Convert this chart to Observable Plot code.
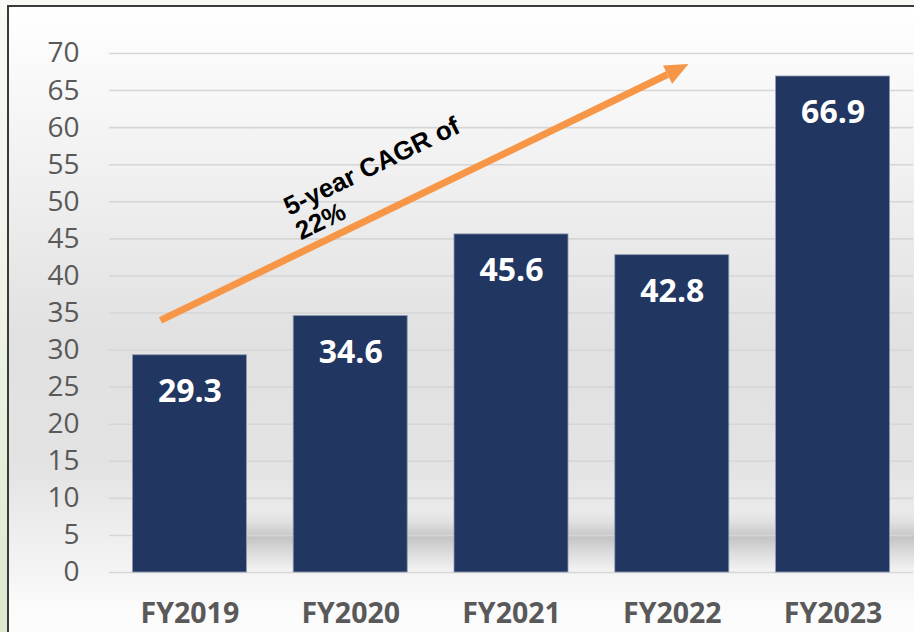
<!DOCTYPE html>
<html>
<head>
<meta charset="utf-8">
<script src="https://cdn.jsdelivr.net/npm/d3@7"></script>
<script src="https://cdn.jsdelivr.net/npm/@observablehq/plot@0.6"></script>
<style>
  html, body { margin: 0; padding: 0; overflow: hidden; background: #f8f9f3; }
  #wrap { position: relative; width: 914px; height: 632px; overflow: hidden; background: #f8f9f3; }
  #strip { position: absolute; left: 0; top: 0; width: 7px; height: 632px;
    background: linear-gradient(to bottom, #f9faf5 0%, #eef3e6 50%, #dde8cc 100%); }
  #frame { position: absolute; left: 7px; top: 5px; width: 930px; height: 650px;
    border-left: 2px solid #3a3a3a; border-top: 2px solid #3a3a3a;
    background: linear-gradient(to bottom, #ffffff 0px, #f0f0f0 170px, #e1e1e1 330px, #e3e3e3 460px, #ededed 520px, #f4f4f4 565px, #fbfbfb 600px, #fdfdfd 640px); }
  #shadow { position: absolute; left: 246px; top: 510px; width: 680px; height: 62px;
    background: linear-gradient(to bottom, rgba(0,0,0,0) 0px, rgba(0,0,0,0.05) 12px, rgba(0,0,0,0.15) 24px, rgba(0,0,0,0.18) 27px, rgba(0,0,0,0.1) 40px, rgba(0,0,0,0.03) 55px, rgba(0,0,0,0) 62px); }
  #chart { position: absolute; left: 0; top: 0; }
</style>
</head>
<body>
<div id="wrap">
  <div id="strip"></div>
  <div id="frame"></div>
  <div id="shadow"></div>
  <div id="chart"></div>
</div>
<script>
// ---- data ----
const categories = ["FY2019", "FY2020", "FY2021", "FY2022", "FY2023"];
const revenue = [29.3, 34.6, 45.6, 42.8, 66.9];
const yTicks = [0, 5, 10, 15, 20, 25, 30, 35, 40, 45, 50, 55, 60, 65, 70];
// annotation (in data units: x = category index, y = value)
const arrowLine = [{x1: -0.183, y1: 34.0, x2: 2.97, y2: 67.17}];
const arrowHead = [{x: 3.014, y: 67.63}];
const cagrLines = ["5-year CAGR of", "22%"];
const cagrAnchor = [{x: 0.565, y: 50.4}];

// ---- derived table ----
const bars = categories.map((c, i) => ({i, cat: c, value: revenue[i]}));
const barHalf = 0.3545;

// filled isosceles arrowhead symbol, pointing along the arrow
const headLen = 23.4, headBase = 20.4, headAngle = -26.5; // degrees on screen
const headArea = 0.5 * headLen * headBase;
const arrowSymbol = {
  draw(context, size) {
    const k = Math.sqrt(size / headArea);
    const a = headAngle * Math.PI / 180;
    const ca = Math.cos(a), sa = Math.sin(a);
    const pts = [[2 * headLen / 3, 0], [-headLen / 3, -headBase / 2], [-headLen / 3, headBase / 2]]
      .map(([px, py]) => [k * (px * ca - py * sa), k * (px * sa + py * ca)]);
    context.moveTo(pts[0][0], pts[0][1]);
    context.lineTo(pts[1][0], pts[1][1]);
    context.lineTo(pts[2][0], pts[2][1]);
    context.closePath();
  }
};

const chart = Plot.plot({
  width: 914,
  height: 632,
  marginLeft: 109,
  marginRight: 1,
  marginTop: 53,
  marginBottom: 60,
  style: {background: "transparent", color: "#595959", fontFamily: "'Open Sans', sans-serif", overflow: "visible"},
  x: {domain: [-0.5, categories.length - 0.5]},
  y: {domain: [0, 70]},
  marks: [
    Plot.ruleY(yTicks, {stroke: "#d6d6d6", strokeWidth: 1.6}),
    Plot.rect(bars, {
      x1: d => d.i - barHalf, x2: d => d.i + barHalf, y1: 0, y2: "value",
      fill: "#213660", stroke: "#8f9bb5", strokeWidth: 0.8
    }),
    Plot.text(bars, {
      x: "i", y: "value", text: d => d.value.toFixed(1), dy: 36.5,
      fill: "white", fontSize: 32, fontWeight: 700, fontFamily: "'Open Sans', sans-serif"
    }),
    Plot.link(arrowLine, {x1: "x1", y1: "y1", x2: "x2", y2: "y2", stroke: "#f79646", strokeWidth: 7}),
    Plot.dot(arrowHead, {x: "x", y: "y", symbol: arrowSymbol, r: Math.sqrt(headArea / Math.PI), fill: "#f79646", stroke: "none"}),
    Plot.text(cagrAnchor, {
      x: "x", y: "y", text: () => cagrLines.join("\n"), rotate: -26,
      textAnchor: "start", lineAnchor: "top", lineHeight: 1.04,
      fontSize: 26, fontWeight: 700, fontFamily: "'Liberation Sans', Arial, sans-serif", fill: "#000000"
    }),
    Plot.axisY({ticks: yTicks, tickSize: 0, tickPadding: 30, fontSize: 28, label: null}),
    Plot.axisX({
      ticks: d3.range(categories.length), tickFormat: i => categories[i],
      tickSize: 0, tickPadding: 30, fontSize: 28.5, fontWeight: 700, label: null
    })
  ]
});
document.getElementById("chart").appendChild(chart);
</script>
</body>
</html>
